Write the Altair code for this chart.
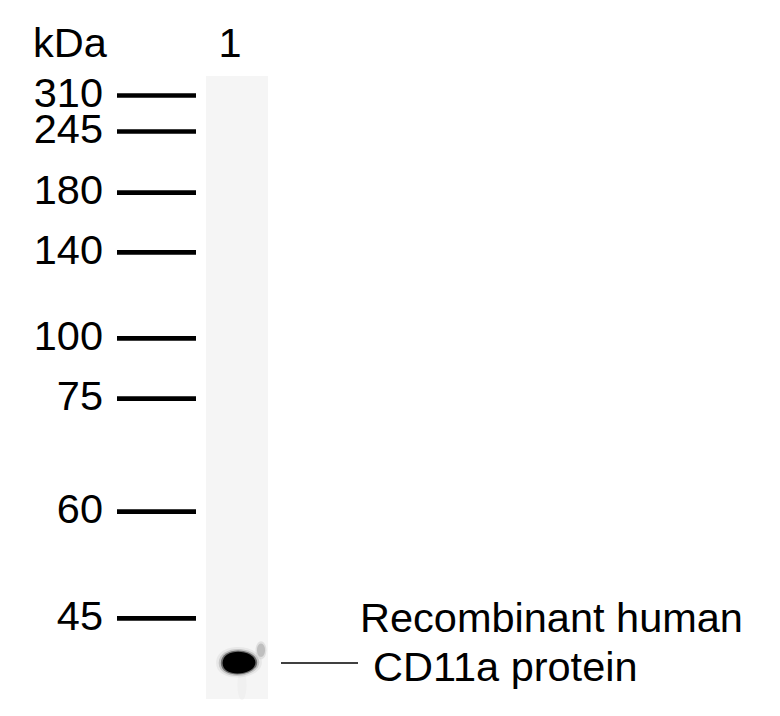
import altair as alt
import pandas as pd

# ladder (marker) sizes in kDa, top to bottom
marker_kda = [310, 245, 180, 140, 100, 75, 60, 45]
marker_labels = ["310", "245", "180", "140", "100", "75", "60", "45"]

# detected signal in lane 1
band_lane = ["1", "1", "1"]
band_kda = [38.7, 40.5, 35.6]
band_kind = ["main", "spot", "smear"]

header_text = ["kDa", "1"]
note_lines = ["Recombinant human", "CD11a protein"]

FONT = "Liberation Sans"
FS = 41.5
OFF = 8  # page margin

# migration of the ladder on the membrane (pixels from top of the page)
migration_px = [95.5, 131.5, 192.7, 252.3, 338.3, 398.7, 511.7, 618.3]
yscale = alt.Scale(domain=marker_kda, range=[p - OFF for p in migration_px], nice=False, zero=False)
xscale = alt.Scale(type="point", domain=["M", "1"], range=[156 - OFF, 239 - OFF], padding=0)

markers = pd.DataFrame({"kda": marker_kda, "label": marker_labels, "lane": "M"})
bands = pd.DataFrame({"lane": band_lane, "kda": band_kda, "kind": band_kind})

lane_bg = alt.Chart(pd.DataFrame({"lane": ["1"]})).mark_rect(fill="#f5f5f5").encode(
    x=alt.value(206 - OFF), x2=alt.value(268 - OFF),
    y=alt.value(76 - OFF), y2=alt.value(699 - OFF),
)

# egg-shaped band: a bit fuller on the left
egg = "M-1,0 C-1,-0.98 0.95,-0.86 1,-0.05 C1.02,0.75 -1,0.95 -1,0 Z"
tall = "M-0.6,0 A0.6,1 0 1,0 0.6,0 A0.6,1 0 1,0 -0.6,0 Z"
narrow = "M-0.3,0 A0.3,1 0 1,0 0.3,0 A0.3,1 0 1,0 -0.3,0 Z"
xy = dict(
    x=alt.X("lane:N", scale=xscale, axis=None),
    y=alt.Y("kda:Q", scale=yscale, axis=None),
)


def blob(kind, shape, size, color, opacity, dx=0):
    return alt.Chart(bands[bands.kind == kind]).mark_point(
        shape=shape, size=size, filled=True, fill=color, opacity=opacity,
        strokeWidth=0, xOffset=dx,
    ).encode(**xy)


band_layers = [
    blob("smear", narrow, 900, "#e4e4e4", 0.3, 3),
    blob("main", egg, 2100, "#000000", 0.05),
    blob("main", egg, 1650, "#000000", 0.15),
    blob("main", egg, 1320, "#000000", 0.45),
    blob("main", egg, 1080, "#000000", 1.0),
    blob("spot", tall, 330, "#c8c8c8", 0.45, 22),
    blob("spot", tall, 180, "#a8a8a8", 0.6, 22),
]

ladder = alt.Chart(markers).mark_rule(color="black", strokeWidth=4.7, strokeCap="butt").encode(
    y=alt.Y("kda:Q", scale=yscale),
    x=alt.value(117 - OFF), x2=alt.value(196 - OFF),
)

ladder_text = alt.Chart(markers).mark_text(
    align="right", baseline="alphabetic", dy=11.5, fontSize=FS, font=FONT, color="black"
).encode(
    y=alt.Y("kda:Q", scale=yscale),
    x=alt.value(103 - OFF),
    text="label:N",
)

headers = pd.DataFrame({"text": header_text})
head_kda = alt.Chart(headers.iloc[[0]]).mark_text(
    align="left", baseline="alphabetic", fontSize=FS, font=FONT, color="black"
).encode(x=alt.value(33 - OFF), y=alt.value(57 - OFF), text="text:N")
head_lane = alt.Chart(headers.iloc[[1]]).mark_text(
    align="center", baseline="alphabetic", fontSize=FS, font=FONT, color="black"
).encode(x=alt.value(230 - OFF), y=alt.value(57 - OFF), text="text:N")

notes = pd.DataFrame({"text": note_lines})
note1 = alt.Chart(notes.iloc[[0]]).mark_text(
    align="left", baseline="alphabetic", fontSize=FS, font=FONT, color="black"
).encode(x=alt.value(360 - OFF), y=alt.value(632 - OFF), text="text:N")
note2 = alt.Chart(notes.iloc[[1]]).mark_text(
    align="left", baseline="alphabetic", fontSize=FS, font=FONT, color="black"
).encode(x=alt.value(373 - OFF), y=alt.value(681 - OFF), text="text:N")

pointer = alt.Chart(notes.iloc[[1]]).mark_rule(color="black", strokeWidth=1.6).encode(
    x=alt.value(281 - OFF), x2=alt.value(358 - OFF), y=alt.value(663 - OFF)
)

chart = alt.layer(
    lane_bg, *band_layers, ladder, ladder_text, head_kda, head_lane, note1, note2, pointer
).properties(
    width=764, height=700, padding=0, background="white",
    autosize=alt.AutoSizeParams(type="none"),
).configure_view(stroke=None)

chart.save("out.html", embed_options={"renderer": "svg", "actions": False})
